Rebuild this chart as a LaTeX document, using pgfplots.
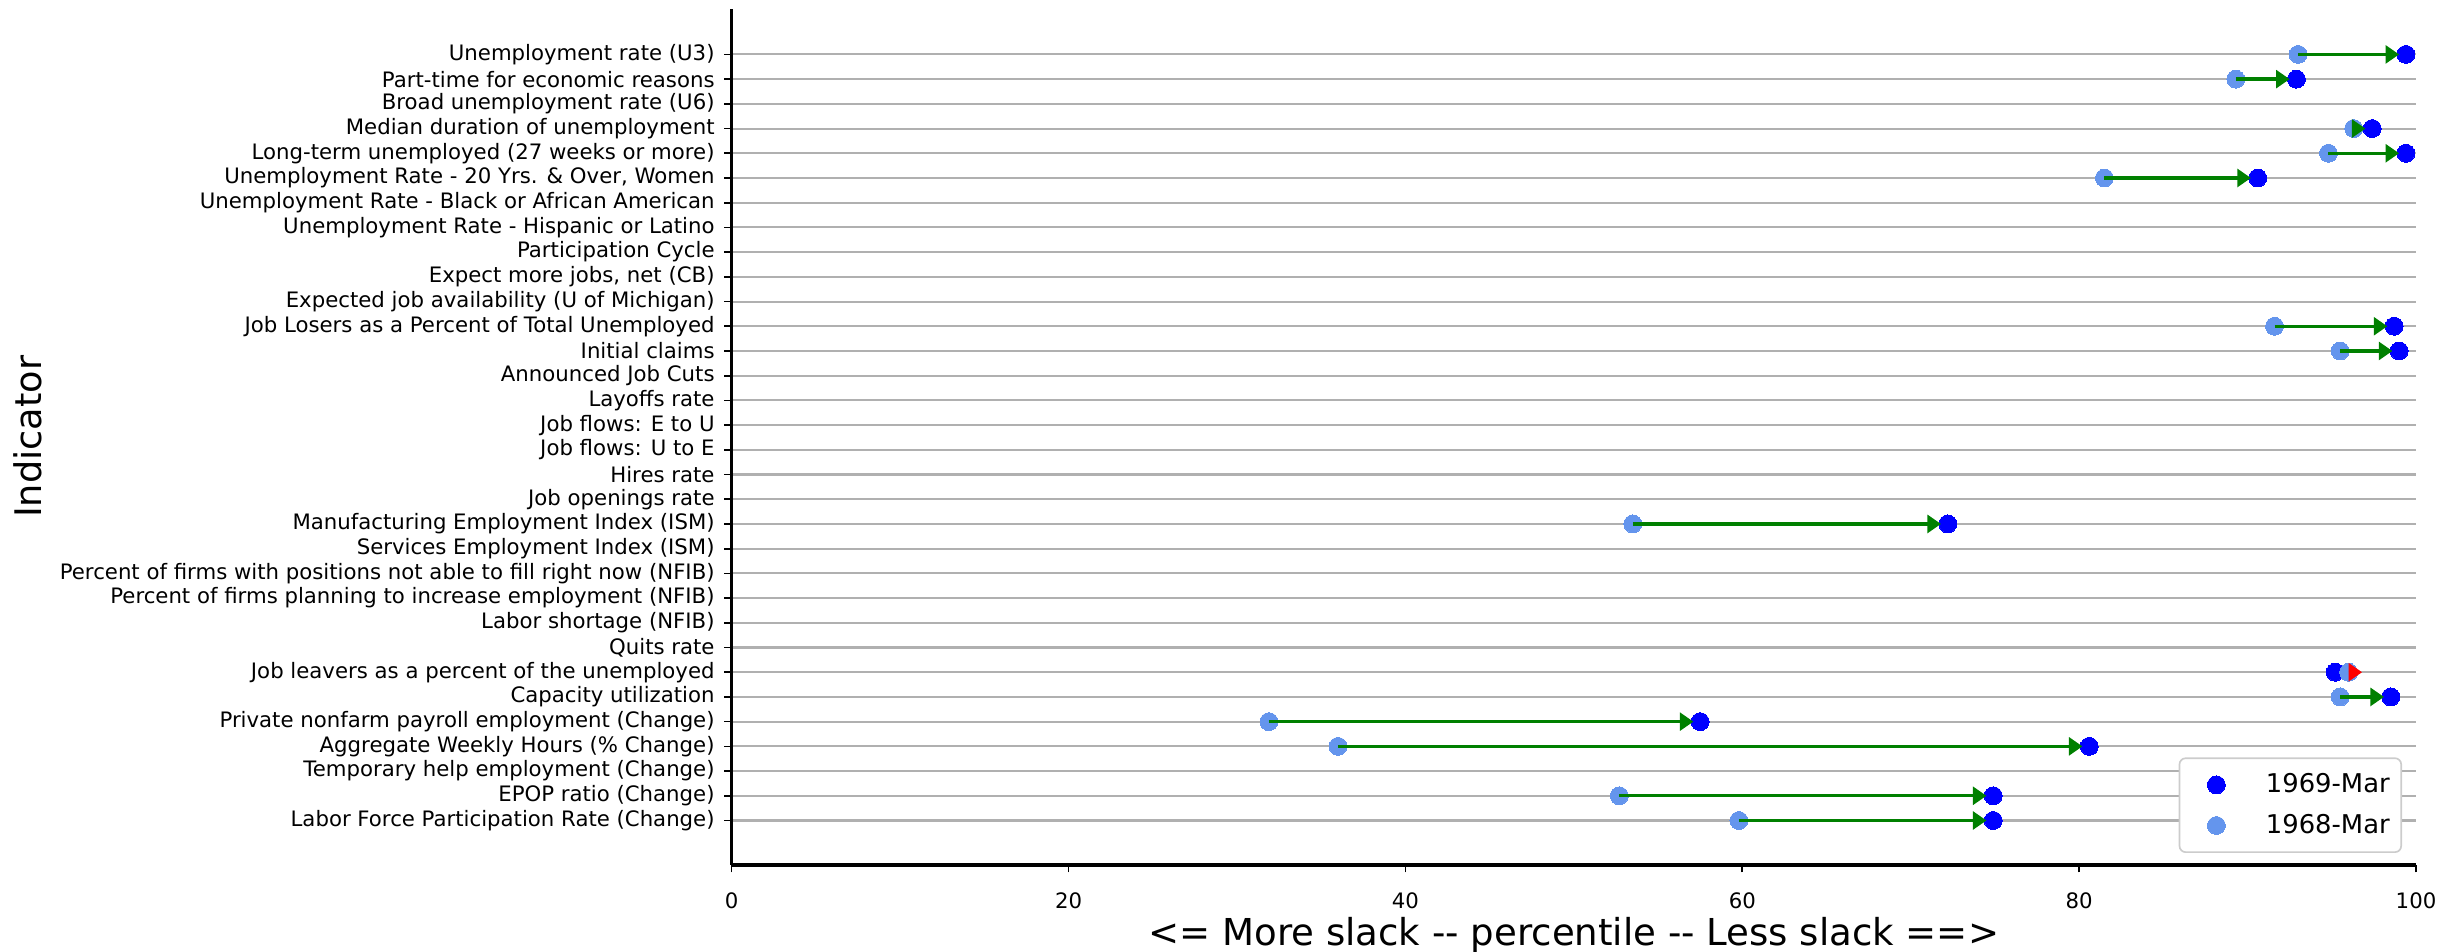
\documentclass[border=0pt]{standalone}
\usepackage{fontspec}
\setmainfont{DejaVu Sans}
\usepackage{pgfplots}
\usepackage{pgfplotstable}
\pgfplotsset{compat=1.18}
\usetikzlibrary{arrows.meta}
\definecolor{darkpt}{HTML}{0000FF}
\definecolor{lightpt}{HTML}{6495ED}
\definecolor{mplgreen}{HTML}{008000}
\definecolor{gridgray}{HTML}{B0B0B0}
\definecolor{legedge}{HTML}{CCCCCC}

% y index: 31 = top category, 0 = bottom category
\pgfplotstableread{
y v
31 99.4
30 92.9
28 97.4
27 99.4
26 90.6
20 98.7
19 99.0
12 72.2
6 95.2
5 98.5
4 57.5
3 80.6
1 74.9
0 74.9
}\darktable

\pgfplotstableread{
y v
31 93.0
30 89.3
28 96.3
27 94.8
26 81.5
20 91.6
19 95.5
12 53.5
6 96.0
5 95.5
4 31.9
3 36.0
1 52.7
0 59.8
}\lighttable

% arrows: start x, y, length u (to just before the 1969 point), v
\pgfplotstableread{
x y u v
93.0 31 6.0 0
89.3 30 3.2 0
96.3 28 0.7 0
94.8 27 4.2 0
81.5 26 8.7 0
91.6 20 6.7 0
95.5 19 3.1 0
53.5 12 18.3 0
95.5 5 2.6 0
31.9 4 25.2 0
36.0 3 44.2 0
52.7 1 21.8 0
59.8 0 14.7 0
}\greentable

\pgfplotstableread{
x y u v
96.0 6 0.8 0
}\redtable

\begin{document}
\begin{tikzpicture}
\begin{axis}[
  at={(0,0)}, anchor=south west,
  scale only axis, width=808.5bp, height=410.9bp,
  xmin=0, xmax=100, ymin=-1.80, ymax=32.84,
  set layers,
  axis x line=bottom, axis y line=left,
  axis line style={-, line width=1.6bp, black},
  tick align=outside,
  major tick length=3.5bp,
  tick style={line width=0.8bp, black},
  xtick={0,20,40,60,80,100},
  xticklabels={0,20,40,60,80,100},
  ytick={0,...,31},
  yticklabels={
    Labor Force Participation Rate (Change),
    EPOP ratio (Change),
    Temporary help employment (Change),
    Aggregate Weekly Hours (\% Change),
    Private nonfarm payroll employment (Change),
    Capacity utilization,
    Job leavers as a percent of the unemployed,
    Quits rate,
    Labor shortage (NFIB),
    Percent of firms planning to increase employment (NFIB),
    Percent of firms with positions not able to fill right now (NFIB),
    Services Employment Index (ISM),
    Manufacturing Employment Index (ISM),
    Job openings rate,
    Hires rate,
    Job flows: U to E,
    Job flows: E to U,
    Layoffs rate,
    Announced Job Cuts,
    Initial claims,
    Job Losers as a Percent of Total Unemployed,
    Expected job availability (U of Michigan),
    {Expect more jobs, net (CB)},
    Participation Cycle,
    Unemployment Rate - Hispanic or Latino,
    Unemployment Rate - Black or African American,
    {Unemployment Rate - 20 Yrs. \& Over, Women},
    Long-term unemployed (27 weeks or more),
    Median duration of unemployment,
    Broad unemployment rate (U6),
    Part-time for economic reasons,
    Unemployment rate (U3)
  },
  tick label style={font=\fontsize{10.2bp}{12bp}\selectfont},
  yticklabel style={inner sep=0pt, anchor=east},
  yticklabel shift=4.5bp,
  xticklabel style={inner sep=0pt, anchor=base},
  xticklabel shift=17.5bp,
  ymajorgrids=true, xmajorgrids=false,
  major grid style={line width=1bp, gridgray},
  xlabel={<= More slack -{}- percentile -{}- Less slack ==>},
  xlabel style={font=\fontsize{17.8bp}{20bp}\selectfont, at={(axis description cs:0.5,-0.0935)}, anchor=base, inner sep=0pt},
  ylabel={Indicator},
  ylabel style={font=\fontsize{17.6bp}{20bp}\selectfont, at={(axis description cs:-0.4178,0.5)}, anchor=center, rotate=0},
  clip=false,
  legend image code/.code={\path (-11.8bp,0bp); \draw[#1] plot coordinates {(0bp,0bp)};},
  legend style={at={(axis description cs:0.9917,0.014)}, anchor=south east,
    draw=legedge, line width=0.8bp, rounded corners=3bp, fill=white,
    inner xsep=5.5bp, inner ysep=7.45bp, column sep=19.5bp, row sep=8.8bp,
    font=\fontsize{12.4bp}{14bp}\selectfont,
    nodes={inner sep=0pt}},
  legend cell align=left,
]
\addplot[only marks, mark=*, mark size=4.3bp, color=darkpt, mark options={draw=darkpt, fill=darkpt, line width=0pt}]
  table[x=v, y=y] {\darktable};
\addlegendentry{1969-Mar}
\addplot[only marks, mark=*, mark size=4.3bp, color=lightpt, mark options={draw=lightpt, fill=lightpt, line width=0pt}]
  table[x=v, y=y] {\lighttable};
\addlegendentry{1968-Mar}
\addplot[mplgreen, line width=1.6bp, -{Triangle[length=6.5bp,width=8.5bp]},
  quiver={u=\thisrow{u}, v=\thisrow{v}}, forget plot, on layer=axis foreground]
  table[x=x, y=y] {\greentable};
\addplot[red, line width=1.6bp, -{Triangle[length=6.5bp,width=8.5bp]},
  quiver={u=\thisrow{u}, v=\thisrow{v}}, forget plot, on layer=axis foreground]
  table[x=x, y=y] {\redtable};
\end{axis}
\pgfresetboundingbox
\path[use as bounding box] (-351.2bp,-41.3bp) rectangle (820.5bp,415.2bp);
\end{tikzpicture}
\end{document}
